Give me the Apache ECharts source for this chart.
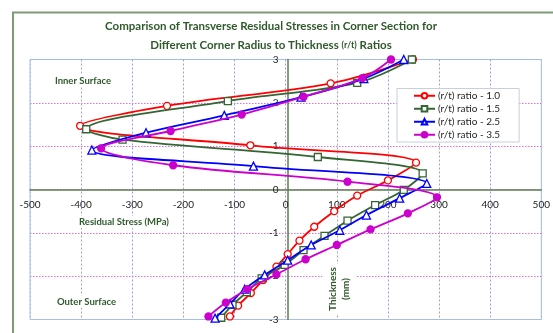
<!DOCTYPE html>
<html>
<head>
<meta charset="utf-8">
<script src="https://cdn.jsdelivr.net/npm/echarts@6/dist/echarts.min.js"></script>
<style>
  html, body { margin: 0; padding: 0; background: #ffffff; }
  #chart { width: 553px; height: 333px; }
</style>
</head>
<body>
<div id="chart"></div>
<script>
// Transverse residual stress (MPa) through the thickness (mm) of the corner section.
// Each point is [stress, thickness]; paths run from the outer to the inner surface.
const seriesNames = ['(r/t) ratio - 1.0', '(r/t) ratio - 1.5', '(r/t) ratio - 2.5', '(r/t) ratio - 3.5'];

const ratio10 = [
  [-109, -2.93], [-93, -2.68], [-68, -2.39], [-44, -2.09], [-18, -1.78], [4, -1.49],
  [27, -1.18], [56, -0.86], [95, -0.50], [140, -0.14], [200, 0.21], [255, 0.62],
  [-69, 1.02], [-402, 1.47], [-232, 1.93], [88, 2.45], [249, 3.0]
];
const ratio15 = [
  [-126, -2.96], [-104, -2.66], [-76, -2.37], [-47, -2.05], [-2, -1.74], [35, -1.40],
  [76, -1.07], [121, -0.72], [175, -0.36], [231, -0.01], [268, 0.37], [63, 0.75],
  [-319, 1.15], [-390, 1.39], [-113, 2.04], [140, 2.46], [247, 3.0]
];
const ratio25 = [
  [-138, -2.97], [-109, -2.64], [-80, -2.30], [-41, -1.97], [4, -1.63], [50, -1.28],
  [106, -0.94], [158, -0.59], [223, -0.20], [276, 0.14], [-63, 0.54], [-379, 0.91],
  [-273, 1.31], [-120, 1.71], [30, 2.13], [153, 2.56], [231, 3.0]
];
const ratio35 = [
  [-151, -2.93], [-117, -2.61], [-75, -2.30], [-18, -1.96], [39, -1.61], [100, -1.28],
  [166, -0.92], [239, -0.55], [296, -0.18], [121, 0.18], [-220, 0.56], [-361, 0.95],
  [-225, 1.35], [-86, 1.73], [35, 2.14], [150, 2.57], [206, 3.0]
];

const stressTicks = [-500, -400, -300, -200, -100, 0, 100, 200, 300, 400, 500];
const thicknessTicks = [-3, -2, -1, 0, 1, 2, 3];

const titleLine1 = 'Comparison of Transverse Residual Stresses in Corner Section for';
const titleLine2a = 'Different Corner Radius to Thickness ';
const titleLine2b = '(r/t)';
const titleLine2c = ' Ratios';
const xAxisTitle = 'Residual Stress (MPa)';
const yAxisTitle = 'Thickness\n(mm)';
const innerLabel = 'Inner Surface';
const outerLabel = 'Outer Surface';

const FONT = 'Lato, "Liberation Sans", sans-serif';
const TEXT_GREEN = '#2f5a2c';

const styles = [
  { color: '#ff0000', symbol: 'circle', fill: '#ffffff', size: 7 },
  { color: '#336633', symbol: 'rect', fill: '#ffffff', size: 7 },
  { color: '#0000ff', symbol: 'triangle', fill: '#ffffff', size: 8 },
  { color: '#cc00cc', symbol: 'circle', fill: '#cc00cc', size: 7 }
];
const dataSets = [ratio10, ratio15, ratio25, ratio35];

// plot box geometry
const GRID = { left: 30, top: 59.5, width: 515, height: 260 };
const xMin = stressTicks[0], xMax = stressTicks[stressTicks.length - 1];
const yMin = thicknessTicks[0], yMax = thicknessTicks[thicknessTicks.length - 1];
// axes cross at the origin: shift each axis from the box edge to zero
const xAxisShift = -GRID.height * (0 - yMin) / (yMax - yMin);
const yAxisShift = -GRID.width * (0 - xMin) / (xMax - xMin);

// grid edges light blue, interior lines tinted per axis
function edgeColors(ticks, inner, edge) {
  return ticks.map((t, i) => (i === 0 || i === ticks.length - 1) ? edge : inner);
}

const chart = echarts.init(document.getElementById('chart'), null, { renderer: 'canvas' });

const option = {
  backgroundColor: '#ffffff',
  animation: false,
  grid: Object.assign({}, GRID, {
    show: true, borderColor: '#a8bde6', borderWidth: 1, backgroundColor: 'transparent'
  }),
  xAxis: {
    type: 'value', position: 'bottom', offset: xAxisShift,
    min: xMin, max: xMax, interval: 100,
    axisLine: { show: true, onZero: false, lineStyle: { color: '#5e7d50', width: 1.5 } },
    axisTick: { show: false },
    axisLabel: { color: '#222', fontSize: 10, fontFamily: FONT, margin: 10 },
    splitLine: { show: true, lineStyle: { color: edgeColors(stressTicks, '#9c9cf0', '#a8bde6'), type: [2, 2], width: 1 } }
  },
  yAxis: {
    type: 'value', position: 'left', offset: yAxisShift,
    min: yMin, max: yMax, interval: 1,
    axisLine: { show: true, onZero: false, lineStyle: { color: '#5e7d50', width: 1.5 } },
    axisTick: { show: false },
    axisLabel: { color: '#222', fontSize: 10, fontFamily: FONT, margin: 9 },
    splitLine: { show: true, lineStyle: { color: edgeColors(thicknessTicks, '#dd6fdd', '#a8bde6'), type: [1.5, 1.5], width: 1 } }
  },
  legend: {
    orient: 'vertical', left: 397, top: 88.5,
    padding: [1, 19, 1, 16],
    itemWidth: 21, itemHeight: 7, itemGap: 0.5,
    backgroundColor: '#ffffff', borderColor: '#c7cfdc', borderWidth: 1,
    textStyle: { fontSize: 10, fontFamily: FONT, color: '#1e1e1e', lineHeight: 12.5, padding: [0, 0, 0, -2] },
    data: seriesNames
  },
  series: dataSets.map((d, i) => ({
    name: seriesNames[i],
    type: 'line',
    data: d,
    smooth: 0.35,
    clip: false,
    symbol: styles[i].symbol,
    symbolSize: styles[i].size,
    showAllSymbol: true,
    lineStyle: { color: styles[i].color, width: 1.8 },
    itemStyle: { color: styles[i].fill, borderColor: styles[i].color, borderWidth: 1.3 },
    z: 3 + i
  })),
  graphic: [
    {
      type: 'rect', z: 0, silent: true,
      shape: { x: 13, y: 12.5, width: 600, height: 400 },
      style: { fill: 'none', stroke: '#7f9a76', lineWidth: 2 }
    },
    {
      type: 'text', z: 10, x: 271, y: 26.5,
      style: { text: titleLine1, fill: TEXT_GREEN, font: 'bold 11.5px ' + FONT, align: 'center', verticalAlign: 'middle' }
    },
    {
      type: 'text', z: 10, x: 271, y: 45,
      style: {
        text: '{a|' + titleLine2a + '}{b|' + titleLine2b + '}{a|' + titleLine2c + '}',
        align: 'center', verticalAlign: 'middle',
        rich: {
          a: { fill: TEXT_GREEN, font: 'bold 11.5px ' + FONT },
          b: { fill: TEXT_GREEN, font: 'bold 9px ' + FONT }
        }
      }
    },
    {
      type: 'text', z: 10, x: 124, y: 222,
      style: { text: xAxisTitle, fill: TEXT_GREEN, font: 'bold 9.5px ' + FONT, align: 'center', verticalAlign: 'middle',
               backgroundColor: '#ffffff', padding: [1, 2] }
    },
    {
      type: 'text', z: 10, x: 339.5, y: 289, rotation: Math.PI / 2,
      style: { text: yAxisTitle, fill: TEXT_GREEN, font: 'bold 10px ' + FONT, align: 'center', verticalAlign: 'middle',
               lineHeight: 13, backgroundColor: '#ffffff', padding: [4, 3] }
    },
    {
      type: 'text', z: 10, x: 83, y: 80.5,
      style: { text: innerLabel, fill: TEXT_GREEN, font: 'bold 9.5px ' + FONT, align: 'center', verticalAlign: 'middle',
               backgroundColor: '#ffffff', padding: [1, 1] }
    },
    {
      type: 'text', z: 10, x: 86.5, y: 301.5,
      style: { text: outerLabel, fill: TEXT_GREEN, font: 'bold 9.5px ' + FONT, align: 'center', verticalAlign: 'middle',
               backgroundColor: '#ffffff', padding: [1, 1] }
    }
  ]
};

chart.setOption(option);
</script>
</body>
</html>
